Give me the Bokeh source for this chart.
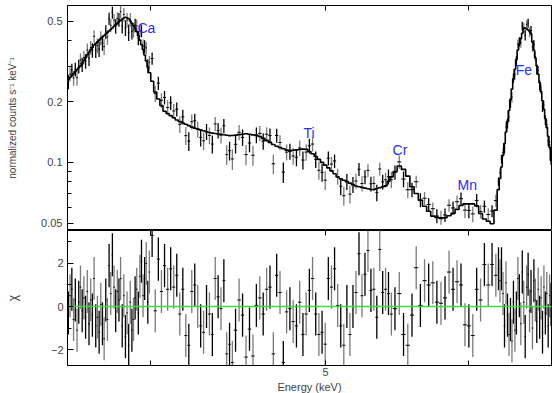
from bokeh.plotting import figure
from bokeh.layouts import column
from bokeh.models import FixedTicker, Range1d, ColumnDataSource, LogAxis
from bokeh.embed import file_html
from bokeh.resources import INLINE
from bokeh.core.properties import value

# ---------------- data ----------------
energy = [3.602, 3.610, 3.618, 3.626, 3.634, 3.642, 3.650, 3.658, 3.666, 3.674, 3.682, 3.690, 3.698, 3.706, 3.714,
          3.722, 3.730, 3.738, 3.746, 3.754, 3.762, 3.770, 3.778, 3.786, 3.794, 3.802, 3.810, 3.818, 3.826, 3.834,
          3.842, 3.850, 3.858, 3.866, 3.874, 3.882, 3.890, 3.898, 3.906, 3.914, 3.922, 3.930, 3.938, 3.946, 3.954,
          3.962, 3.970, 3.978, 3.986, 3.994,
          4.008, 4.024, 4.040, 4.056, 4.072, 4.088, 4.104, 4.120, 4.136, 4.152, 4.168, 4.184, 4.200, 4.216, 4.232,
          4.248, 4.264, 4.280, 4.296, 4.312, 4.328, 4.344, 4.360, 4.376, 4.392, 4.408, 4.424, 4.440,
          4.458, 4.478, 4.498, 4.518, 4.538, 4.558, 4.578, 4.598, 4.618, 4.638, 4.658, 4.678, 4.698, 4.718, 4.738,
          4.758, 4.778, 4.798, 4.818, 4.838, 4.858, 4.878, 4.898, 4.918, 4.938, 4.958, 4.978, 4.998, 5.018, 5.038,
          5.058, 5.078, 5.098, 5.118, 5.138, 5.158, 5.178, 5.198, 5.218, 5.238, 5.258, 5.278, 5.298, 5.318, 5.338,
          5.358, 5.378, 5.398, 5.418, 5.438,
          5.463, 5.493, 5.523, 5.553, 5.583, 5.613, 5.643, 5.673, 5.703, 5.733, 5.763, 5.793, 5.823, 5.853, 5.883,
          5.913, 5.943, 5.973, 6.003, 6.033, 6.063, 6.093, 6.123, 6.153, 6.183, 6.213,
          6.234, 6.246, 6.258, 6.270, 6.282, 6.294, 6.306, 6.318, 6.330, 6.342, 6.354, 6.366, 6.378, 6.390, 6.402,
          6.414, 6.426, 6.438, 6.450, 6.462, 6.474, 6.486, 6.498, 6.510, 6.522, 6.534, 6.546, 6.558, 6.570, 6.582,
          6.594, 6.606, 6.618, 6.630, 6.642, 6.654, 6.666]

half_width = [0.004] * 50 + [0.008] * 28 + [0.01] * 50 + [0.015] * 26 + [0.006] * 37

model = [0.257, 0.263, 0.269, 0.275, 0.282, 0.288, 0.294, 0.300, 0.310, 0.320, 0.330, 0.341, 0.351, 0.361, 0.371,
         0.381, 0.388, 0.395, 0.403, 0.410, 0.417, 0.425, 0.432, 0.439, 0.447, 0.455, 0.463, 0.472, 0.480, 0.488,
         0.497, 0.505, 0.512, 0.519, 0.522, 0.520, 0.514, 0.501, 0.488, 0.476, 0.463, 0.445, 0.424, 0.403, 0.383,
         0.362, 0.340, 0.318, 0.296, 0.278,
         0.252, 0.223, 0.206, 0.191, 0.179, 0.1745, 0.1704, 0.1662, 0.162, 0.1592, 0.1568, 0.1544, 0.152, 0.1495,
         0.1475, 0.1461, 0.1447, 0.1433, 0.1419, 0.1405, 0.1396, 0.1389, 0.1383, 0.1376, 0.137, 0.1363, 0.1356,
         0.1358,
         0.1364, 0.1372, 0.1379, 0.1386, 0.1377, 0.1368, 0.1360, 0.1344, 0.1315, 0.1285, 0.1256, 0.1227, 0.1202,
         0.1185, 0.1168, 0.1150, 0.1143, 0.1148, 0.1153, 0.1158, 0.1163, 0.1161, 0.1132, 0.1103, 0.1069, 0.1035,
         0.1000, 0.0969, 0.0939, 0.0908, 0.0878, 0.0847, 0.0829, 0.0816, 0.0803, 0.0789, 0.0776, 0.0764, 0.0758,
         0.0752, 0.0746, 0.0740, 0.0734, 0.0734, 0.0742, 0.0749, 0.0757, 0.0765, 0.0806, 0.0848,
         0.0900, 0.0960, 0.0923, 0.0855, 0.0757, 0.0701, 0.0649, 0.0606, 0.0573, 0.0542, 0.0534, 0.0527, 0.0532,
         0.0544, 0.0559, 0.0585, 0.0612, 0.0623, 0.0623, 0.0623, 0.0609, 0.0558, 0.0524, 0.0511, 0.0497, 0.0580,
         0.0733, 0.0832, 0.0948, 0.1084, 0.124, 0.1413, 0.1596, 0.1805, 0.204, 0.2306, 0.259, 0.289, 0.323, 0.360,
         0.385, 0.410, 0.435, 0.460, 0.462, 0.458, 0.452, 0.446, 0.433, 0.395, 0.360, 0.329, 0.300, 0.273, 0.248,
         0.224, 0.202, 0.183, 0.165, 0.149, 0.1346, 0.1188, 0.1023]

# residuals in units of sigma (bottom panel)
chi = [-0.3, 0.5, 0.8, -0.6, 0.3, -1.1, 0.2, 0.9, -0.2, 0.4, -0.5, 0.7, -0.8, 0.3, -0.4, 1.3, -0.9,
       -0.5, -1.2, 0.1, -0.8, -1.5, 0.3, -0.6,
       1.9, 0.6, 2.4, 0.9, -0.2, 0.7, 0.3, 1.3,
       -0.9, 0.5, -1.4, -0.3, -1.8, 0.2, -1.1, -0.6, 0.4,
       0.8, -0.3, 1.4, 2.1, 0.5, 1.3, 2.0, 0.2, 1.6,
       3.3, -0.2, 2.2, 0.7, 1.9, 0.8, 1.75, 0.9, 1.45, -0.35, 0.8, -1.35, -1.8, 0.7, 1.0, 0.0,
       -0.9, -1.2, 0.0, -0.35, -1.3, 1.3, 0.45, -0.1, 1.2, -2.2, -1.75, -2.6,
       -1.1, 0.3, -0.4, -2.35, -1.05, -2.3, 0.05, 0.4, -0.35, 0.8, 0.9, -2.2, 1.45, 0.65, -2.6, -0.25, -0.1, -0.7,
       -0.9, 0.2, -1.3, -0.35, 0.75, 1.3, -0.35, -1.3, -1.2, -1.75, 1.3, 0.9, 1.75, 0.05, -0.9, -1.8, 0.0, -1.3,
       0.0, 0.65, 2.45, 0.5, 1.5, 2.6, 0.75, 0.8, -0.5, 2.65, 0.65, 0.8, 0.6, -0.35,
       -0.1, 0.6, -1.3, -1.8, -0.4, 1.8, 0.05, 1.2, 1.0, 1.1, 0.2, 0.15, 0.4, 1.6, 0.8, 1.15, 1.0, -0.85, -0.9,
       -1.35, 0.8, 0.3, 1.95, 1.0, 1.95, 1.45,
       1.75, 1.2, 1.75, 0.6, -0.9, 1.1, -0.4, -1.3, -0.6, -1.6, 0.2, -1.1, -0.3, 1.3, 0.5, -0.8, 1.6, 0.2, -1.4,
       0.9, 1.5, -0.2, 0.7, -1.0, 1.2, 0.3, -0.7, 0.8, -0.5, 0.4, -1.2, 0.9, -0.3, 0.6, -0.9, 0.5, 0.1]

# relative 1-sigma error of each bin
rel_err = [0.08] * 50 + [0.09] * 28 + [0.09] * 50 + [0.08] * 26 + [0.055] * 37

line_names = ["Ca", "Ti", "Cr", "Mn", "Fe"]
line_label_e = [3.934, 4.861, 5.446, 5.917, 6.372]
line_label_v = [0.462, 0.139, 0.1158, 0.0776, 0.286]

y_major = [0.05, 0.1, 0.2, 0.5]
y_minor = [0.06, 0.07, 0.08, 0.09, 0.3, 0.4]
x_major = [4, 5, 6]

# ---------------- derived quantities ----------------
n = len(energy)
sigma = [m * r for m, r in zip(model, rel_err)]
data = [m + c * s for m, c, s in zip(model, chi, sigma)]
colors = ["black" if i % 2 == 0 else "#7a7a7a" for i in range(n)]

src = ColumnDataSource(dict(
    e=energy, lo=[e - h for e, h in zip(energy, half_width)], hi=[e + h for e, h in zip(energy, half_width)],
    d=data, dlo=[d - s for d, s in zip(data, sigma)], dhi=[d + s for d, s in zip(data, sigma)],
    c=chi, clo=[c - 1 for c in chi], chi_hi=[c + 1 for c in chi], col=colors))

FONT = "Liberation Sans"
x_rng = Range1d(3.598, 6.670)


def tick_only_axis(fig, where):
    ax = LogAxis(ticker=FixedTicker(ticks=x_major), major_label_overrides={4: "", 5: "", 6: ""},
                 major_label_text_font_size="0px", major_label_standoff=0, major_tick_in=5,
                 major_tick_out=0, minor_tick_in=0, minor_tick_out=0, axis_line_color=None)
    fig.add_layout(ax, where)


# ---------------- top panel ----------------
top = figure(frame_width=484, frame_height=225, x_axis_type="log", y_axis_type="log",
             x_range=x_rng, y_range=Range1d(0.046, 0.598), output_backend="svg", toolbar_location=None,
             min_border_left=67, min_border_right=1, min_border_top=5, min_border_bottom=0,
             x_axis_location=None)
top.grid.visible = False
top.outline_line_color = "black"
yax = top.yaxis[0]
yax.ticker = FixedTicker(ticks=y_major, minor_ticks=y_minor)
yax.major_label_overrides = {0.05: "0.05", 0.1: "0.1", 0.2: "0.2", 0.5: "0.5"}
yax.major_tick_in = 6
yax.major_tick_out = 0
yax.minor_tick_in = 4
yax.minor_tick_out = 0
yax.major_label_text_font = FONT
yax.major_label_text_font_size = "11px"
yax.major_label_standoff = 5
yax.axis_label = "normalized counts s\u207b\u00b9 keV\u207b\u00b9"
yax.axis_label_text_font = FONT
yax.axis_label_text_font_style = "normal"
yax.axis_label_text_font_size = "10px"
yax.axis_label_standoff = 20
tick_only_axis(top, "above")

top.segment(x0="e", y0="dlo", x1="e", y1="dhi", source=src, line_color="col", line_width=1.3)
top.segment(x0="lo", y0="d", x1="hi", y1="d", source=src, line_color="black", line_width=1)
top.step(x=energy, y=model, mode="center", line_color="black", line_width=1.6)
top.text(x=line_label_e, y=line_label_v, text=line_names, text_font=value(FONT), text_font_size="14px",
         text_color="#2b2bff", text_align="left", text_baseline="alphabetic")

# ---------------- residual panel ----------------
bot = figure(frame_width=484, frame_height=135, x_axis_type="log",
             x_range=x_rng, y_range=Range1d(-2.74, 3.53), output_backend="svg", toolbar_location=None,
             min_border_left=67, min_border_right=1, min_border_top=0, min_border_bottom=0)
bot.grid.visible = False
bot.outline_line_color = "black"
bx = bot.xaxis[0]
bx.ticker = FixedTicker(ticks=x_major)
bx.major_label_overrides = {4: "", 5: "5", 6: ""}
bx.major_tick_in = 5
bx.major_tick_out = 0
bx.minor_tick_in = 0
bx.minor_tick_out = 0
bx.major_label_text_font = FONT
bx.major_label_text_font_size = "11px"
bx.major_label_standoff = 2
bx.axis_label = "Energy (keV)"
bx.axis_label_text_font = FONT
bx.axis_label_text_font_style = "normal"
bx.axis_label_text_font_size = "11px"
bx.axis_label_standoff = 2
by = bot.yaxis[0]
by.ticker = FixedTicker(ticks=[-2, 0, 2], minor_ticks=[-1, 1, 3])
by.major_label_overrides = {-2: "\u22122", 0: "0", 2: "2"}
by.major_tick_in = 6
by.major_tick_out = 0
by.minor_tick_in = 4
by.minor_tick_out = 0
by.major_label_text_font = FONT
by.major_label_text_font_size = "11px"
by.major_label_standoff = 4
by.axis_label = "\u03c7"
by.axis_label_text_font = FONT
by.axis_label_text_font_style = "normal"
by.axis_label_text_font_size = "12px"
by.axis_label_standoff = 28
tick_only_axis(bot, "above")

bot.segment(x0="e", y0="clo", x1="e", y1="chi_hi", source=src, line_color="col", line_width=1.3)
bot.segment(x0="lo", y0="c", x1="hi", y1="c", source=src, line_color="black", line_width=1)
bot.line(x=[3.598, 6.670], y=[0, 0], line_color="#3ddc3d", line_width=1.6)

layout = column(top, bot, spacing=0)
open("out.html", "w").write(file_html(layout, INLINE))
